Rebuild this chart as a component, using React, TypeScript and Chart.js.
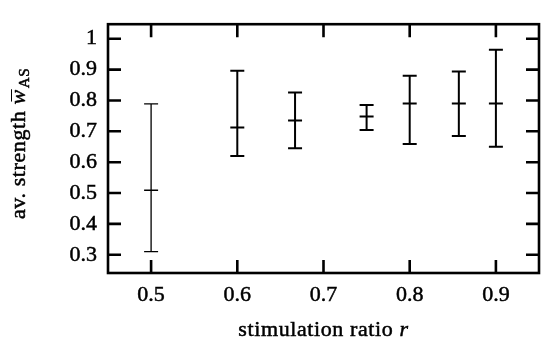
import { useEffect, useRef } from 'react';
import { Chart, registerables } from 'chart.js';

Chart.register(...registerables);

const ratios = [0.5, 0.6, 0.667, 0.75, 0.8, 0.857, 0.9];
const meanStrength = [0.509, 0.712, 0.735, 0.748, 0.79, 0.79, 0.79];
const upperStrength = [0.789, 0.896, 0.826, 0.785, 0.88, 0.894, 0.964];
const lowerStrength = [0.31, 0.62, 0.645, 0.704, 0.659, 0.685, 0.65];
const xTickValues = [0.5, 0.6, 0.7, 0.8, 0.9];
const yTickValues = [0.3, 0.4, 0.5, 0.6, 0.7, 0.8, 0.9, 1];
const barLineWidths = [1.3, 2, 2, 2, 2, 2, 2];

const FAMILY = '"Liberation Serif", "Times New Roman", serif';
const INK = 0.5;

export default function App() {
  const ref = useRef<HTMLCanvasElement | null>(null);

  useEffect(() => {
    const canvas = ref.current;
    if (!canvas) return;

    const errorBars = {
      id: 'errorBars',
      afterDatasetsDraw(chart: any) {
        const { ctx, scales } = chart;
        const xs = scales.x;
        const ys = scales.y;
        ctx.save();
        ctx.strokeStyle = '#000';
        ratios.forEach((r, i) => {
          const x = xs.getPixelForValue(r);
          const yt = ys.getPixelForValue(upperStrength[i]);
          const yb = ys.getPixelForValue(lowerStrength[i]);
          const hw = 7;
          ctx.lineWidth = barLineWidths[i];
          ctx.beginPath();
          ctx.moveTo(x, yt);
          ctx.lineTo(x, yb);
          ctx.moveTo(x - hw, yt);
          ctx.lineTo(x + hw, yt);
          ctx.moveTo(x - hw, yb);
          ctx.lineTo(x + hw, yb);
          ctx.stroke();
        });
        ctx.restore();
      },
    };

    const inkText = (ctx: any, t: string, x: number, y: number) => {
      ctx.fillText(t, x, y);
      ctx.strokeText(t, x, y);
    };

    const frame = {
      id: 'frame',
      afterDraw(chart: any) {
        const { ctx, chartArea: a, scales } = chart;
        ctx.save();
        ctx.strokeStyle = '#000';
        ctx.lineWidth = 2.6;
        ctx.strokeRect(a.left, a.top, a.right - a.left, a.bottom - a.top);
        const tl = 13;
        ctx.beginPath();
        xTickValues.forEach((v) => {
          const x = scales.x.getPixelForValue(v);
          ctx.moveTo(x, a.bottom);
          ctx.lineTo(x, a.bottom - tl);
          ctx.moveTo(x, a.top);
          ctx.lineTo(x, a.top + tl);
        });
        yTickValues.forEach((v) => {
          const y = scales.y.getPixelForValue(v);
          ctx.moveTo(a.left, y);
          ctx.lineTo(a.left + tl, y);
          ctx.moveTo(a.right, y);
          ctx.lineTo(a.right - tl, y);
        });
        ctx.stroke();

        // axis titles
        ctx.fillStyle = '#000';
        ctx.lineWidth = INK;
        ctx.textBaseline = 'alphabetic';
        ctx.textAlign = 'left';
        try { (ctx as any).letterSpacing = '0.6px'; } catch (e) {}
        const xMain = 'stimulation ratio ';
        ctx.font = `22px ${FAMILY}`;
        const w1 = ctx.measureText(xMain).width;
        ctx.font = `italic 22px ${FAMILY}`;
        const w2 = ctx.measureText('r').width;
        const cx = 323.5;
        const sx = cx - (w1 + w2) / 2;
        ctx.font = `22px ${FAMILY}`;
        inkText(ctx, xMain, sx, 336);
        ctx.font = `italic 22px ${FAMILY}`;
        inkText(ctx, 'r', sx + w1, 336);

        // y title
        const yMain = 'av. strength ';
        ctx.font = `22px ${FAMILY}`;
        const m1 = ctx.measureText(yMain).width;
        ctx.font = `italic 22px ${FAMILY}`;
        const m2 = ctx.measureText('w').width;
        ctx.font = `15px ${FAMILY}`;
        const m3 = ctx.measureText('AS').width;
        const total = m1 + m2 + 1 + m3;
        ctx.translate(25, 143.5);
        ctx.rotate(-Math.PI / 2);
        let px = -total / 2;
        ctx.font = `22px ${FAMILY}`;
        inkText(ctx, yMain, px, 0);
        px += m1;
        ctx.font = `italic 22px ${FAMILY}`;
        inkText(ctx, 'w', px, 0);
        ctx.lineWidth = 1;
        ctx.beginPath();
        ctx.moveTo(px + 3, -13.5);
        ctx.lineTo(px + m2, -13.5);
        ctx.stroke();
        ctx.lineWidth = INK;
        px += m2 + 1;
        ctx.font = `15px ${FAMILY}`;
        inkText(ctx, 'AS', px, 4);
        ctx.restore();
      },
    };

    const tickFont = { family: FAMILY, size: 22, lineHeight: 1.2 };

    const chart = new Chart(canvas, {
      type: 'scatter',
      data: {
        datasets: [
          {
            data: ratios.map((r, i) => ({ x: r, y: meanStrength[i] })),
            pointStyle: 'line',
            pointRadius: 7,
            pointBorderWidth: barLineWidths,
            borderColor: '#000',
            backgroundColor: '#000',
            showLine: false,
          } as any,
        ],
      },
      options: {
        animation: false,
        responsive: true,
        maintainAspectRatio: false,
        layout: { padding: { top: 10, right: 7, left: 0, bottom: 0 } },
        plugins: {
          legend: { display: false },
          tooltip: { enabled: false },
        },
        events: [],
        scales: {
          x: {
            type: 'linear',
            min: 0.45,
            max: 0.95,
            afterBuildTicks: (s: any) => {
              s.ticks = xTickValues.map((v) => ({ value: v }));
            },
            afterFit: (s: any) => {
              s.height = 339 - 273 - 0;
            },
            grid: { display: false, drawTicks: false },
            border: { display: false },
            ticks: {
              autoSkip: false,
              maxRotation: 0,
              padding: 9,
              color: '#000',
              textStrokeColor: '#000',
              textStrokeWidth: INK,
              font: tickFont,
              callback: (v: any) => String(v),
            },
          },
          y: {
            type: 'linear',
            min: 0.241,
            max: 1.047,
            afterBuildTicks: (s: any) => {
              s.ticks = yTickValues.map((v) => ({ value: v }));
            },
            afterFit: (s: any) => {
              s.width = 108;
            },
            grid: { display: false, drawTicks: false },
            border: { display: false },
            ticks: {
              autoSkip: false,
              padding: 11,
              color: '#000',
              textStrokeColor: '#000',
              textStrokeWidth: INK,
              font: tickFont,
              callback: (v: any) => String(v),
            },
          },
        },
      } as any,
      plugins: [errorBars, frame],
    });

    return () => chart.destroy();
  }, []);

  return (
    <div style={{ position: 'fixed', left: 0, top: 0, width: 548, height: 339, background: '#fff' }}>
      <canvas ref={ref} />
    </div>
  );
}
